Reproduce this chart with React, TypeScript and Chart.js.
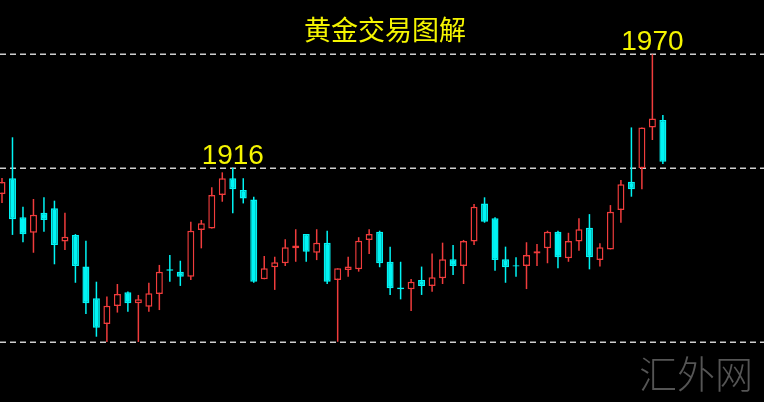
import React, { useEffect, useRef } from "react";
import { Chart, registerables } from "chart.js";

Chart.register(...registerables);

const TITLE = "黄金交易图解";
const WATERMARK = "汇外网";

const opens = [
  1903.5, 1911.0, 1892.4, 1885.0, 1894.6, 1896.7, 1880.8, 1884.0, 1868.9, 1853.8,
  1841.6, 1850.1, 1856.7, 1851.4, 1849.8, 1855.9, 1867.6, 1866.5, 1864.1, 1886.3,
  1887.1, 1903.0, 1911.0, 1905.4, 1900.9, 1862.9, 1868.6, 1870.5, 1877.6, 1884.4,
  1875.5, 1880.3, 1862.5, 1867.3, 1867.6, 1881.6, 1885.5, 1871.2, 1859.0, 1858.1,
  1862.5, 1859.7, 1863.3, 1872.4, 1869.2, 1880.8, 1899.0, 1891.9, 1872.4, 1869.5,
  1869.2, 1875.2, 1877.6, 1885.5, 1872.9, 1880.8, 1887.4, 1872.0, 1877.1, 1895.9,
  1909.3, 1915.7, 1935.2, 1938.7,
];
const closes = [
  1909.2, 1891.4, 1884.3, 1893.6, 1891.1, 1879.2, 1883.1, 1869.2, 1851.4, 1839.8,
  1850.3, 1855.9, 1851.4, 1853.3, 1856.2, 1866.5, 1866.9, 1864.1, 1886.0, 1889.5,
  1903.0, 1911.0, 1905.7, 1901.4, 1861.7, 1868.1, 1871.0, 1878.1, 1879.0, 1876.0,
  1880.3, 1861.7, 1868.1, 1868.9, 1881.2, 1884.4, 1870.5, 1858.6, 1858.1, 1861.7,
  1859.7, 1863.8, 1872.4, 1869.2, 1881.1, 1897.4, 1890.3, 1872.0, 1868.6, 1868.9,
  1874.4, 1876.2, 1885.5, 1873.3, 1881.1, 1886.7, 1873.3, 1878.1, 1895.0, 1908.1,
  1905.7, 1935.2, 1939.5, 1918.9,
];
const highs = [
  1911.1, 1930.5, 1897.4, 1901.1, 1901.9, 1900.3, 1894.6, 1884.4, 1881.2, 1861.7,
  1854.6, 1860.6, 1857.0, 1855.4, 1861.2, 1869.7, 1874.4, 1871.7, 1890.3, 1891.1,
  1906.7, 1913.8, 1916.0, 1911.0, 1902.2, 1874.0, 1873.6, 1881.9, 1886.7, 1884.4,
  1886.7, 1886.0, 1868.1, 1873.6, 1882.9, 1886.7, 1886.0, 1878.4, 1871.2, 1863.0,
  1868.9, 1875.2, 1880.3, 1879.2, 1881.6, 1898.7, 1901.9, 1892.4, 1878.4, 1873.3,
  1880.5, 1879.7, 1886.0, 1886.0, 1885.0, 1891.9, 1893.9, 1880.0, 1898.2, 1910.1,
  1935.2, 1935.2, 1970.0, 1941.1,
];
const lows = [
  1899.2, 1884.0, 1880.5, 1875.5, 1885.5, 1870.0, 1876.8, 1861.2, 1846.3, 1835.5,
  1833.0, 1847.0, 1847.4, 1833.0, 1847.4, 1848.2, 1861.7, 1859.7, 1862.5, 1877.6,
  1887.1, 1899.8, 1894.3, 1899.0, 1861.2, 1862.9, 1857.8, 1869.2, 1871.2, 1871.2,
  1872.0, 1860.6, 1833.1, 1864.1, 1866.5, 1874.9, 1868.6, 1855.4, 1853.3, 1847.8,
  1855.4, 1856.9, 1860.6, 1864.9, 1860.6, 1879.2, 1889.8, 1866.9, 1861.2, 1864.1,
  1858.2, 1869.2, 1870.5, 1868.1, 1871.2, 1876.5, 1867.6, 1868.9, 1877.1, 1889.8,
  1902.2, 1905.7, 1929.2, 1917.8,
];

const levels = [1970, 1916, 1833];
const peakLabels = ["1916", "1970"];
const peakValues = [1916, 1970];
const peakCandles = [22, 62];

const UP = "#f03c3c";
const DOWN = "#00f4f4";

export default function App() {
  const ref = useRef<HTMLCanvasElement | null>(null);

  useEffect(() => {
    const canvas = ref.current;
    if (!canvas) return;
    const isUp = opens.map((o, i) => closes[i] >= o);
    const wickData = opens.map((_, i) => ({ x: i, y: [lows[i], highs[i]] }));
    const bodyData = opens.map((o, i) => ({ x: i, y: [o, closes[i]] }));
    const colors = isUp.map((u) => (u ? UP : DOWN));

    const overlay = {
      id: "overlay",
      beforeDatasetsDraw(chart: any) {
        const { ctx, chartArea, scales } = chart;
        ctx.save();
        ctx.strokeStyle = "#cfcfcf";
        ctx.lineWidth = 1.5;
        ctx.setLineDash([6, 4]);
        levels.forEach((lv) => {
          const y = Math.round(scales.y.getPixelForValue(lv)) + 0.25;
          ctx.beginPath();
          ctx.moveTo(chartArea.left, y);
          ctx.lineTo(chartArea.right, y);
          ctx.stroke();
        });
        ctx.restore();
      },
      afterDraw(chart: any) {
        const { ctx, scales } = chart;
        ctx.save();
        ctx.fillStyle = "#f5f500";
        ctx.textAlign = "center";
        ctx.textBaseline = "middle";
        ctx.font = '27px "Noto Sans CJK SC"';
        ctx.fillText(TITLE, 385, 30);
        ctx.font = '28px "Liberation Sans"';
        ctx.textBaseline = "alphabetic";
        peakLabels.forEach((t, k) => {
          const x = scales.x.getPixelForValue(peakCandles[k]);
          const y = scales.y.getPixelForValue(peakValues[k]);
          ctx.fillText(t, x, y - 4);
        });
        ctx.fillStyle = "#555555";
        ctx.textAlign = "right";
        ctx.font = '300 38px "Noto Sans CJK SC"';
        ctx.fillText(WATERMARK, 753, 388);
        ctx.restore();
      },
    };

    const chart = new Chart(canvas, {
      type: "bar",
      data: {
        datasets: [
          {
            data: wickData as any,
            backgroundColor: colors,
            borderWidth: 0,
            barThickness: 1.5,
            grouped: false,
            order: 2,
            inflateAmount: 0,
          } as any,
          {
            data: bodyData as any,
            backgroundColor: isUp.map((u) => (u ? "#000000" : DOWN)),
            borderColor: colors,
            borderWidth: 1.5,
            borderSkipped: false,
            barThickness: 7,
            grouped: false,
            order: 1,
            inflateAmount: 0,
          } as any,
        ],
      },
      options: {
        responsive: false,
        animation: false,
        devicePixelRatio: 1,
        layout: { padding: 0 },
        plugins: {
          legend: { display: false },
          tooltip: { enabled: false },
          title: { display: false },
        },
        scales: {
          x: {
            type: "linear",
            display: false,
            offset: false,
            min: -0.19,
            max: 72.64,
            grid: { display: false },
          },
          y: {
            type: "linear",
            display: false,
            beginAtZero: false,
            min: 1804.4,
            max: 1995.9,
            grid: { display: false },
          },
        },
      } as any,
      plugins: [overlay],
    });
    return () => chart.destroy();
  }, []);

  return (
    <div
      style={{
        position: "fixed",
        left: 0,
        top: 0,
        width: 764,
        height: 402,
        background: "#000",
      }}
    >
      <canvas ref={ref} width={764} height={402} style={{ display: "block" }} />
    </div>
  );
}
